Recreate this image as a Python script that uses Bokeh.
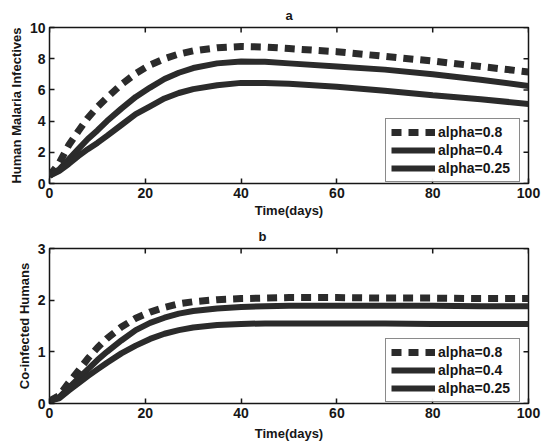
import math
from bokeh.plotting import figure
from bokeh.layouts import column
from bokeh.models import Range1d, Legend, LegendItem, FixedTicker
from bokeh.embed import file_html
from bokeh.resources import INLINE

# time samples (days)
t = [0, 2, 4, 6, 8, 10, 12, 15, 18, 21, 24, 27, 30, 35, 40, 45, 50, 60, 70, 80, 90, 100]

# (a) human malaria infectives
malaria_a08 = [0.5, 1.3, 2.45, 3.35, 4.2, 4.9, 5.5, 6.35, 7.05, 7.6, 8.0, 8.3, 8.5, 8.7, 8.78, 8.75, 8.65, 8.45, 8.15, 7.85, 7.5, 7.15]
malaria_a04 = [0.5, 0.9, 1.55, 2.2, 2.85, 3.4, 4.0, 4.8, 5.55, 6.15, 6.7, 7.1, 7.4, 7.7, 7.82, 7.8, 7.7, 7.5, 7.3, 7.0, 6.65, 6.25]
malaria_a025 = [0.5, 0.8, 1.25, 1.75, 2.2, 2.6, 3.05, 3.75, 4.45, 4.95, 5.45, 5.8, 6.05, 6.3, 6.45, 6.45, 6.4, 6.2, 5.95, 5.65, 5.4, 5.1]

# (b) co-infected humans
coinf_a08 = [0.05, 0.15, 0.4, 0.63, 0.87, 1.08, 1.26, 1.48, 1.65, 1.77, 1.86, 1.93, 1.97, 2.01, 2.03, 2.04, 2.05, 2.05, 2.04, 2.04, 2.03, 2.03]
coinf_a04 = [0.05, 0.12, 0.3, 0.48, 0.66, 0.84, 1.0, 1.22, 1.42, 1.56, 1.66, 1.74, 1.79, 1.84, 1.87, 1.88, 1.89, 1.89, 1.89, 1.89, 1.88, 1.88]
coinf_a025 = [0.05, 0.1, 0.25, 0.39, 0.53, 0.66, 0.79, 0.97, 1.12, 1.25, 1.35, 1.42, 1.47, 1.52, 1.54, 1.55, 1.55, 1.55, 1.55, 1.54, 1.54, 1.54]

labels = ["alpha=0.8", "alpha=0.4", "alpha=0.25"]
x_ticks = [0, 20, 40, 60, 80, 100]
FONT = "Liberation Sans"
INK = "#161616"
LINE = "#2b2b2b"


def style_axis(ax):
    ax.major_tick_in = 5
    ax.major_tick_out = 0
    ax.minor_tick_in = 0
    ax.minor_tick_out = 0
    ax.axis_line_color = None
    ax.major_tick_line_color = INK
    ax.major_tick_line_width = 1.5
    ax.major_label_text_font = FONT
    ax.major_label_text_font_style = "bold"
    ax.major_label_text_color = INK
    ax.major_label_text_font_size = "14px"
    ax.major_label_standoff = 4
    ax.axis_label_text_font = FONT
    ax.axis_label_text_font_style = "bold"
    ax.axis_label_text_color = INK
    ax.axis_label_text_font_size = "13px"


def panel(title, title_align, title_offset, ylabel, ymax, yticks, series,
          h, top, bottom, xlab_standoff):
    p = figure(width=543, height=h, output_backend="svg", toolbar_location=None,
               x_range=Range1d(0, 100), y_range=Range1d(0, ymax),
               min_border_left=49, min_border_right=15,
               min_border_top=top, min_border_bottom=bottom)
    p.title.text = title
    p.title.align = title_align
    p.title.text_font = FONT
    p.title.text_font_style = "bold"
    p.title.text_font_size = "13px"
    p.title.text_color = INK
    p.title.offset = title_offset
    p.grid.visible = False
    p.outline_line_color = INK
    p.outline_line_width = 1.5
    p.xaxis.ticker = FixedTicker(ticks=x_ticks)
    p.yaxis.ticker = FixedTicker(ticks=yticks)
    p.xaxis.axis_label = "Time(days)"
    p.xaxis.axis_label_standoff = xlab_standoff
    p.yaxis.axis_label = ylabel
    p.yaxis.axis_label_standoff = 3
    style_axis(p.xaxis[0])
    style_axis(p.yaxis[0])

    # inward tick marks on the top and right edges of the box
    p.scatter(x_ticks, [ymax] * len(x_ticks), marker="dash", angle=math.pi / 2,
              size=10, line_color=INK, line_width=1.5)
    p.scatter([100] * len(yticks), yticks, marker="dash",
              size=10, line_color=INK, line_width=1.5)

    dashes = ["10 7", "solid", "solid"]
    widths = [7, 6, 6]
    items = []
    for ys, lab, d, w in zip(series, labels, dashes, widths):
        r = p.line(t, ys, line_color=LINE, line_width=w, line_dash=d)
        items.append(LegendItem(label=lab, renderers=[r]))
    leg = Legend(items=items, location=(336, 1))
    leg.label_text_font = FONT
    leg.label_text_font_style = "bold"
    leg.label_text_font_size = "14px"
    leg.label_text_color = INK
    leg.glyph_width = 44
    leg.glyph_height = 16
    leg.label_height = 16
    leg.label_width = 76
    leg.label_standoff = 3
    leg.spacing = 2
    leg.padding = 5
    leg.margin = 0
    leg.border_line_color = INK
    leg.border_line_width = 1.5
    leg.background_fill_color = "white"
    p.add_layout(leg)
    return p


pa = panel("a", "center", 0, "Human Malaria Infectives", 10, [0, 2, 4, 6, 8, 10],
           [malaria_a08, malaria_a04, malaria_a025], 221, 26, 38, 2)
pb = panel("b", "left", 209, "Co-infected Humans", 3, [0, 1, 2, 3],
           [coinf_a08, coinf_a04, coinf_a025], 226, 27, 44, 5)

layout = column(pa, pb, spacing=0)
open("out.html", "w").write(file_html(layout, INLINE))
